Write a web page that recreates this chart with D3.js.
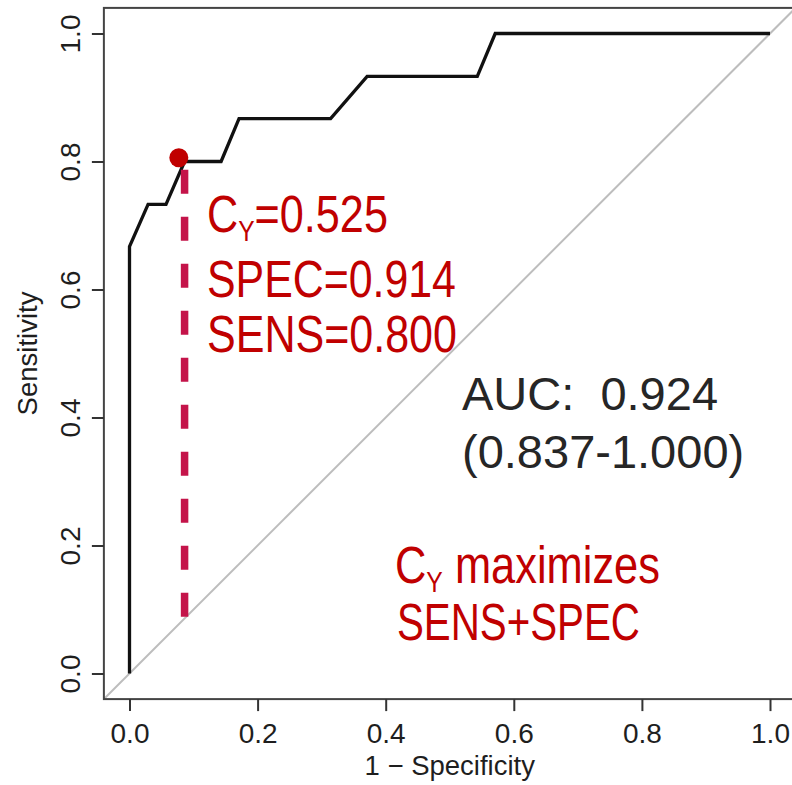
<!DOCTYPE html>
<html lang="en">
<head>
    <meta charset="UTF-8">
    <title>ROC curve</title>
    <script src="https://d3js.org/d3.v7.min.js"></script>
    <style>
        body { margin: 0; background: #fff; overflow: hidden; }
        svg { display: block; }
        .tick text { font-family: "Liberation Sans", Arial, sans-serif; font-size: 28px; fill: #1e1e1e; }
        .tick line { stroke: #333; stroke-width: 2px; }
        .axis-title { font-family: "Liberation Sans", Arial, sans-serif; font-size: 27.5px; fill: #1e1e1e; }
        .auc { font-family: "Liberation Sans", Arial, sans-serif; font-size: 47px; fill: #262626; white-space: pre; }
        .note { font-family: "Liberation Sans Narrow", "Arial Narrow", "Liberation Sans", Arial, sans-serif; font-size: 51px; fill: #c00000; white-space: pre; }
    </style>
</head>
<body>
<svg id="chart" width="792" height="785"></svg>
<script>
    // ROC curve steps (1 - specificity, sensitivity)
    const fpr = [0, 0, 0.029, 0.057, 0.086, 0.143, 0.171, 0.314, 0.371, 0.543, 0.571, 1.0];
    const tpr = [0, 0.667, 0.733, 0.733, 0.800, 0.800, 0.867, 0.867, 0.933, 0.933, 1.0, 1.0];

    const ticks = [0, 0.2, 0.4, 0.6, 0.8, 1.0];

    // optimal cut-point marker and its drop line
    const cutPoint = { x: 0.077, y: 0.806 };
    const cutLineX = 0.086;
    const cutLineTop = 0.787;

    const aucLines = ["AUC:  0.924", "(0.837-1.000)"];

    const svg = d3.select("#chart");

    const x = d3.scaleLinear().domain([0, 1]).range([129.5, 770]);
    const y = d3.scaleLinear().domain([0, 1]).range([673.5, 33.5]);

    // R pads the axes by 4% on each side
    const pad = 0.04;
    const box = {
        x0: x(-pad), x1: x(1 + pad),
        y0: y(1 + pad), y1: y(-pad)
    };

    svg.append("clipPath").attr("id", "plot-clip")
        .append("rect")
        .attr("x", box.x0).attr("y", box.y0)
        .attr("width", box.x1 - box.x0).attr("height", box.y1 - box.y0);

    const plot = svg.append("g").attr("clip-path", "url(#plot-clip)");

    // chance diagonal
    plot.append("line")
        .attr("x1", x(-pad)).attr("y1", y(-pad))
        .attr("x2", x(1 + pad)).attr("y2", y(1 + pad))
        .attr("stroke", "#bdbdbd")
        .attr("stroke-width", 2);

    // ROC curve
    const line = d3.line()
        .x((d, i) => x(fpr[i]))
        .y((d, i) => y(tpr[i]));

    plot.append("path")
        .datum(fpr)
        .attr("d", line)
        .attr("fill", "none")
        .attr("stroke", "#111")
        .attr("stroke-width", 3.3);

    // dashed drop line down to the diagonal
    plot.append("line")
        .attr("x1", x(cutLineX)).attr("y1", y(cutLineTop))
        .attr("x2", x(cutLineX)).attr("y2", y(cutLineX))
        .attr("stroke", "#c4144a")
        .attr("stroke-width", 7.5)
        .attr("stroke-dasharray", "24,23");

    plot.append("circle")
        .attr("cx", x(cutPoint.x)).attr("cy", y(cutPoint.y))
        .attr("r", 9.5)
        .attr("fill", "#c00000");

    // frame
    svg.append("rect")
        .attr("x", box.x0).attr("y", box.y0)
        .attr("width", box.x1 - box.x0).attr("height", box.y1 - box.y0)
        .attr("fill", "none")
        .attr("stroke", "#444")
        .attr("stroke-width", 2);

    // axes
    const xAxis = svg.append("g")
        .attr("transform", `translate(0,${box.y1})`)
        .call(d3.axisBottom(x).tickValues(ticks).tickFormat(d3.format(".1f")).tickSize(12).tickPadding(12));
    xAxis.select(".domain").remove();

    const yAxis = svg.append("g")
        .attr("transform", `translate(${box.x0},0)`)
        .call(d3.axisLeft(y).tickValues(ticks).tickFormat(d3.format(".1f")).tickSize(12));
    yAxis.select(".domain").remove();
    yAxis.selectAll(".tick text")
        .attr("x", null).attr("dy", null)
        .attr("text-anchor", "middle")
        .attr("transform", "translate(-24,0) rotate(-90)");

    svg.append("text")
        .attr("class", "axis-title")
        .attr("x", (x(0) + x(1)) / 2).attr("y", 775)
        .attr("text-anchor", "middle")
        .text("1 \u2212 Specificity");

    svg.append("text")
        .attr("class", "axis-title")
        .attr("transform", `translate(37,${(y(0) + y(1)) / 2}) rotate(-90)`)
        .attr("text-anchor", "middle")
        .text("Sensitivity");

    // AUC label
    svg.selectAll("text.auc")
        .data(aucLines)
        .join("text")
        .attr("class", "auc")
        .attr("x", 462)
        .attr("y", (d, i) => 409.5 + i * 58)
        .text(d => d);

    // red annotations: a regular face squeezed sideways to the narrow width of the original
    function note(xPos, yPos, width, parts) {
        const g = svg.append("g").attr("transform", `translate(${xPos},${yPos})`);
        const t = g.append("text").attr("class", "note");
        parts.forEach(p => {
            if (p.sub) {
                t.append("tspan").attr("dy", 9).attr("font-size", 29).text(p.text);
            } else {
                t.append("tspan").attr("dy", p.after ? -9 : 0).text(p.text);
            }
        });
        const natural = t.node().getComputedTextLength();
        t.attr("transform", `scale(${width / natural},1)`);
        return g;
    }

    note(207, 231.5, 181, [{ text: "C" }, { text: "Y", sub: true }, { text: "=0.525", after: true }]);
    note(207, 296.5, 249, [{ text: "SPEC=0.914" }]);
    note(207, 351.5, 250, [{ text: "SENS=0.800" }]);
    note(395, 582.5, 265, [{ text: "C" }, { text: "Y", sub: true }, { text: " maximizes", after: true }]);
    note(397, 640, 243, [{ text: "SENS+SPEC" }]);
</script>
</body>
</html>
